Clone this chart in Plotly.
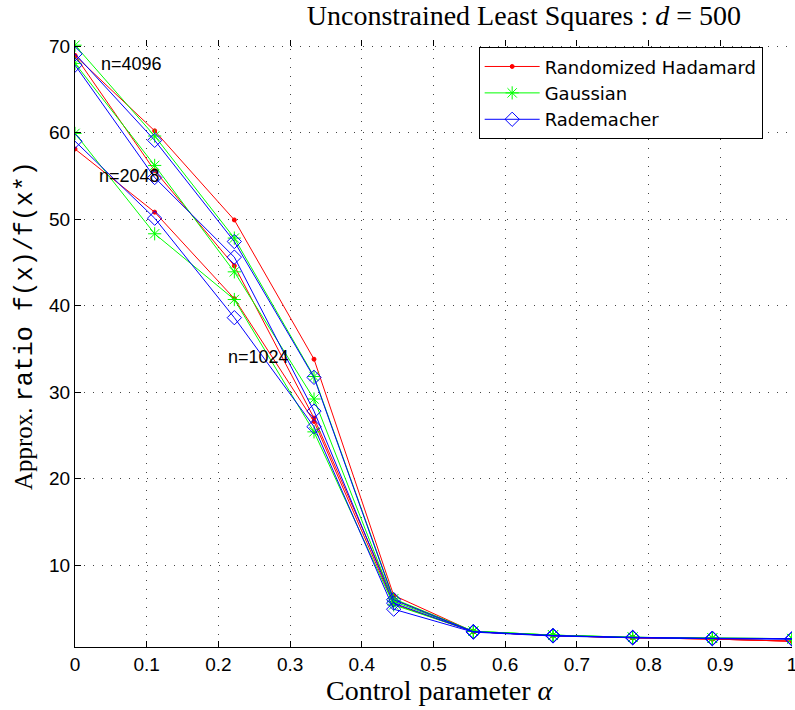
import plotly.graph_objects as go

alpha = [0, 1 / 9, 2 / 9, 3 / 9, 4 / 9, 5 / 9, 6 / 9, 7 / 9, 8 / 9, 1]

# n = 4096
hadamard_4096 = [68.9, 60.2, 49.9, 33.8, 6.5, 2.3, 1.85, 1.6, 1.45, 1.2]
gaussian_4096 = [70.1, 59.6, 47.8, 31.8, 6.1, 2.35, 1.9, 1.65, 1.55, 1.5]
rademacher_4096 = [69.1, 59.1, 47.4, 31.7, 6.0, 2.3, 1.85, 1.65, 1.55, 1.5]

# n = 2048
hadamard_2048 = [68.9, 55.6, 44.6, 27.0, 6.0, 2.3, 1.85, 1.6, 1.45, 1.2]
gaussian_2048 = [68.0, 56.2, 43.9, 29.2, 5.8, 2.35, 1.9, 1.65, 1.55, 1.5]
rademacher_2048 = [67.8, 54.8, 45.6, 27.8, 5.6, 2.3, 1.85, 1.6, 1.5, 1.45]

# n = 1024
hadamard_1024 = [58.1, 50.8, 40.8, 26.6, 5.5, 2.3, 1.85, 1.6, 1.45, 1.2]
gaussian_1024 = [59.9, 48.3, 40.7, 25.4, 5.4, 2.35, 1.9, 1.65, 1.55, 1.5]
rademacher_1024 = [59.0, 50.1, 38.6, 26.0, 4.9, 2.25, 1.8, 1.6, 1.5, 1.45]

series = [
  ("Randomized Hadamard", "#ff0000", "circle", 4, [hadamard_4096, hadamard_2048, hadamard_1024]),
  ("Gaussian", "#00ff00", "asterisk-open", 11, [gaussian_4096, gaussian_2048, gaussian_1024]),
  ("Rademacher", "#0000ff", "diamond-open", 11, [rademacher_4096, rademacher_2048, rademacher_1024]),
]

labels = [("n=4096", 0.033, 67.9), ("n=2048", 0.031, 55.0), ("n=1024", 0.21, 34.0)]

sans = "Liberation Sans, Arial, sans-serif"
legend_sans = "DejaVu Sans, Liberation Sans, sans-serif"
serif = "Liberation Serif, DejaVu Serif, serif"
mono = "Liberation Mono, monospace"

fig = go.Figure()
for name, color, symbol, size, runs in series:
  for i, values in enumerate(runs):
    fig.add_trace(go.Scatter(
      x=alpha, y=values, mode="lines+markers", name=name,
      legendgroup=name, showlegend=(i == 0),
      line={"color": color, "width": 1},
      marker={"symbol": symbol, "size": size, "color": color,
              "line": {"color": color, "width": 1}},
    ))

# invisible trace to carry the top tick marks
fig.add_trace(go.Scatter(x=[0, 1], y=[None, None], xaxis="x2", showlegend=False, hoverinfo="skip"))

for text, x, y in labels:
  fig.add_annotation(x=x, y=y, text=text, showarrow=False, xanchor="left", yanchor="middle",
                     font={"family": sans, "size": 18, "color": "black"})

# axis titles placed by hand, like the MATLAB figure
fig.add_annotation(xref="paper", yref="paper", x=0.509, y=-0.071, text="Control parameter <i>α</i>",
                   showarrow=False, xanchor="center", yanchor="middle",
                   font={"family": serif, "size": 28, "color": "black"})
fig.add_annotation(xref="paper", yref="paper", x=-0.07, y=0.53, textangle=-90,
                   text=f"Approx. <span style=\"font-family:{mono}\">ratio f(x)/f(x*)</span>",
                   showarrow=False, xanchor="center", yanchor="middle",
                   font={"family": serif, "size": 25, "color": "black"})

grid = {"showgrid": True, "gridcolor": "#444444", "griddash": "1px,8px", "gridwidth": 1}
ticks = [i / 10 for i in range(11)]

fig.update_layout(
  width=795, height=710,
  margin={"l": 75, "r": 3, "t": 40, "b": 63, "autoexpand": False},
  plot_bgcolor="white", paper_bgcolor="white",
  title={"text": "Unconstrained Least Squares : <i>d</i> = 500", "x": 0.659, "xanchor": "center",
         "y": 0.979, "yanchor": "middle", "font": {"family": serif, "size": 28, "color": "black"}},
  xaxis={"range": [0, 1], "tickvals": ticks, "ticktext": ["0", "0.1", "0.2", "0.3", "0.4", "0.5",
                                                          "0.6", "0.7", "0.8", "0.9", "1"],
         "ticks": "inside", "ticklen": 6, "tickcolor": "black", "showline": True,
         "linecolor": "black", "linewidth": 1, "zeroline": False, "automargin": False,
         "ticklabeloverflow": "allow",
         "tickfont": {"family": sans, "size": 19, "color": "black"}, **grid},
  xaxis2={"range": [0, 1], "overlaying": "x", "side": "top", "tickvals": ticks,
          "showticklabels": False, "ticks": "inside", "ticklen": 6, "tickcolor": "black",
          "showgrid": False, "showline": False, "zeroline": False, "automargin": False},
  yaxis={"range": [0.53, 70.7], "tickvals": [10, 20, 30, 40, 50, 60, 70],
         "ticks": "inside", "ticklen": 6, "tickcolor": "black", "showline": True,
         "linecolor": "black", "linewidth": 1, "zeroline": False, "automargin": False,
         "ticklabeloverflow": "allow",
         "tickfont": {"family": sans, "size": 19, "color": "black"}, **grid},
  legend={"x": 0.563, "y": 0.988, "xanchor": "left", "yanchor": "top",
          "bgcolor": "white", "bordercolor": "black", "borderwidth": 1,
          "font": {"family": legend_sans, "size": 18, "color": "black"}, "itemwidth": 55,
          "tracegroupgap": 0},
  showlegend=True,
)

# drop the browser's default body margin so the figure sits at the page corner
fig.write_html("out.html", config={"displayModeBar": False},
               post_script="document.body.style.margin = '0';")
